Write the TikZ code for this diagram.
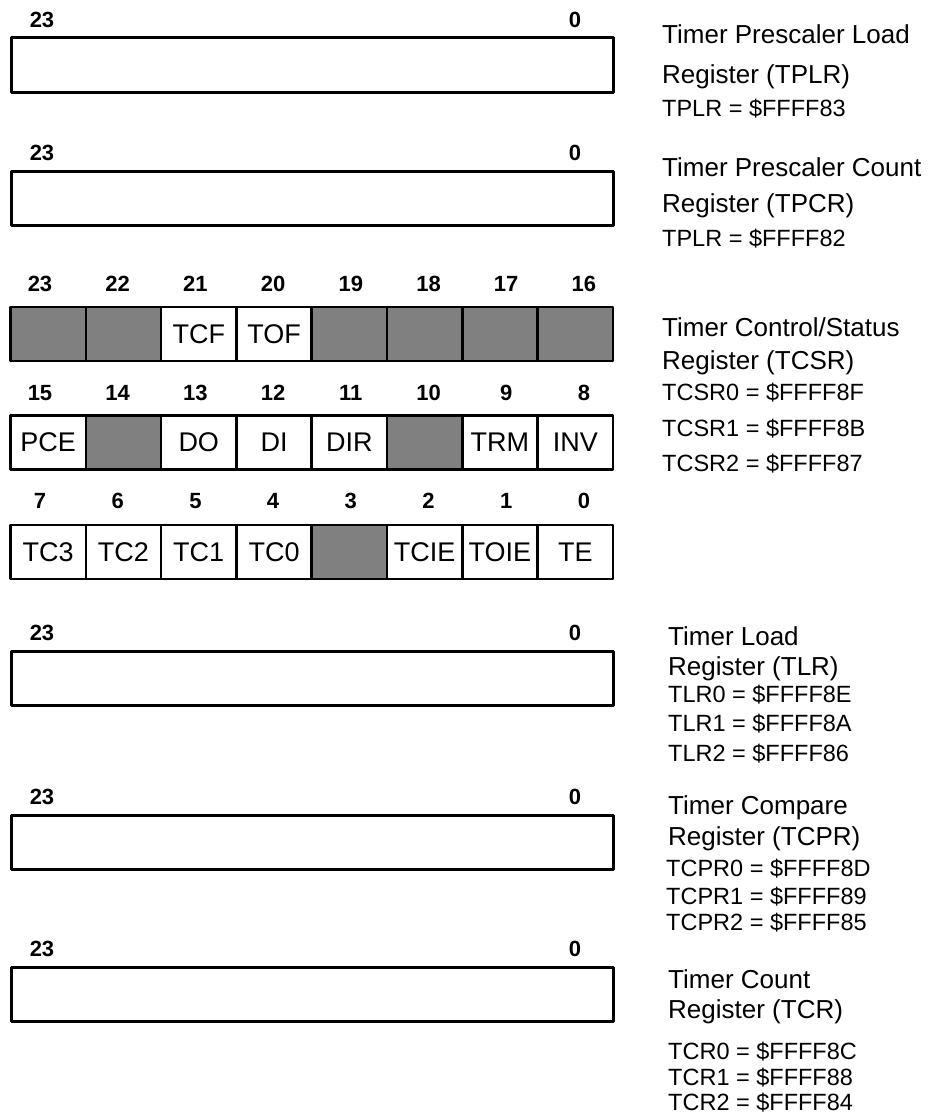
\documentclass[tikz,border=0pt]{standalone}
\usepackage{fontspec}
\setmainfont{Liberation Sans}
\definecolor{rsvgray}{HTML}{808080}
\begin{document}
\begin{tikzpicture}[x=1pt, y=-1pt, line join=round]
	\tikzset{reg/.style={draw, line width=3pt, minimum width=602pt, minimum height=54pt, anchor=north west, inner sep=0pt},
		cell/.style={draw, line width=2.5pt, minimum width=75.3pt, minimum height=54pt, anchor=north west, inner sep=0pt, font=\fontsize{27}{30}\selectfont},
		rsv/.style={cell, fill=rsvgray},
		bitno/.style={inner sep=0pt, font=\bfseries\fontsize{22}{24}\selectfont},
		title/.style={anchor=base west, inner sep=0pt, font=\fontsize{26}{28}\selectfont},
		addr/.style={anchor=base west, inner sep=0pt, font=\fontsize{23.5}{26}\selectfont}}
	\useasboundingbox (0,0) rectangle (933,1116);
	% 24-bit registers
	\foreach \n/\t in {tplr/36.5, tpcr/169.5, tlr/649.5, tcpr/813.5, tcr/965.5}{
		\node[reg] (\n) at (9.5,\t) {};
		\node[bitno] (\n-hi) at (42,\t-16.5) {23};
		\node[bitno] (\n-lo) at (575,\t-16.5) {0};
	}
	% TCSR bits
	\foreach \b/\l/\s [count=\i from 0] in {23//rsv, 22//rsv, 21/TCF/cell, 20/TOF/cell, 19//rsv, 18//rsv, 17//rsv, 16//rsv}{
		\node[\s] (b\b) at ({9.25+75.3*\i},305.5) {\l};
		\node[bitno] (n\b) at ({40+77.7*\i},284) {\b};
	}
	\foreach \b/\l/\s [count=\i from 0] in {15/PCE/cell, 14//rsv, 13/DO/cell, 12/DI/cell, 11/DIR/cell, 10//rsv, 9/TRM/cell, 8/INV/cell}{
		\node[\s] (b\b) at ({9.25+75.3*\i},414) {\l};
		\node[bitno] (n\b) at ({40+77.7*\i},393) {\b};
	}
	\foreach \b/\l/\s [count=\i from 0] in {7/TC3/cell, 6/TC2/cell, 5/TC1/cell, 4/TC0/cell, 3//rsv, 2/TCIE/cell, 1/TOIE/cell, 0/TE/cell}{
		\node[\s] (b\b) at ({9.25+75.3*\i},523.5) {\l};
		\node[bitno] (n\b) at ({40+77.7*\i},501) {\b};
	}
	% names and addresses
	\node[title] (tplr-t1) at (662,44) {Timer Prescaler Load};
	\node[title] (tplr-t2) at (662,84) {Register (TPLR)};
	\node[addr] (tplr-a) at (662,116) {TPLR = \$FFFF83};
	\node[title] (tpcr-t1) at (662,176) {Timer Prescaler Count};
	\node[title] (tpcr-t2) at (662,212) {Register (TPCR)};
	\node[addr] (tpcr-a) at (662,246) {TPLR = \$FFFF82};
	\node[title] (tcsr-t1) at (662,336) {Timer Control/Status};
	\node[title] (tcsr-t2) at (662,369) {Register (TCSR)};
	\node[addr] (tcsr-a0) at (662,400) {TCSR0 = \$FFFF8F};
	\node[addr] (tcsr-a1) at (662,436) {TCSR1 = \$FFFF8B};
	\node[addr] (tcsr-a2) at (662,471) {TCSR2 = \$FFFF87};
	\node[title] (tlr-t1) at (668,645) {Timer Load};
	\node[title] (tlr-t2) at (668,675) {Register (TLR)};
	\node[addr] (tlr-a0) at (668,702) {TLR0 = \$FFFF8E};
	\node[addr] (tlr-a1) at (668,731) {TLR1 = \$FFFF8A};
	\node[addr] (tlr-a2) at (668,761) {TLR2 = \$FFFF86};
	\node[title] (tcpr-t1) at (668,814) {Timer Compare};
	\node[title] (tcpr-t2) at (668,845) {Register (TCPR)};
	\node[addr] (tcpr-a0) at (666,876) {TCPR0 = \$FFFF8D};
	\node[addr] (tcpr-a1) at (666,904) {TCPR1 = \$FFFF89};
	\node[addr] (tcpr-a2) at (666,930) {TCPR2 = \$FFFF85};
	\node[title] (tcr-t1) at (668,988) {Timer Count};
	\node[title] (tcr-t2) at (668,1018) {Register (TCR)};
	\node[addr] (tcr-a0) at (668,1059) {TCR0 = \$FFFF8C};
	\node[addr] (tcr-a1) at (668,1085) {TCR1 = \$FFFF88};
	\node[addr] (tcr-a2) at (668,1110) {TCR2 = \$FFFF84};
\end{tikzpicture}
\end{document}
